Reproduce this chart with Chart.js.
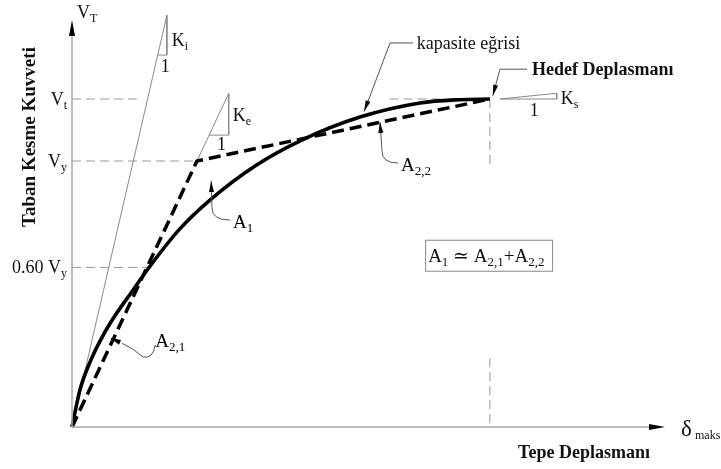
<!DOCTYPE html>
<html>
<head>
<meta charset="utf-8">
<title>Kapasite eğrisi</title>
<script src="https://cdn.jsdelivr.net/npm/chart.js@4.4.1/dist/chart.umd.min.js"></script>
<style>
  html, body { margin: 0; padding: 0; background: #fff; }
  canvas { display: block; }
</style>
</head>
<body>
<canvas id="pushover" width="721" height="469"></canvas>
<script>
// displacement normalised by target displacement, force by V_t
const capDisp  = [0, 0.019, 0.043, 0.067, 0.096, 0.139, 0.187, 0.258, 0.330, 0.438, 0.545, 0.689, 0.833, 0.928, 1.0];
const capForce = [0, 0.113, 0.198, 0.262, 0.326, 0.405, 0.491, 0.604, 0.692, 0.796, 0.872, 0.945, 0.988, 0.998, 1.0];

const Vt = 1.0;
const Vy = 0.811;
const deltaY = 0.299;
const deltaT = 1.0;

const bilinDisp  = [0, deltaY, deltaT];
const bilinForce = [0, Vy, Vt];

const kiSlope = 5.53;            // initial stiffness
const keSlope = Vy / deltaY;     // effective stiffness
const ksSlope = 0.13;            // post-yield stiffness

const tickValues = [Vt, Vy, 0.60 * Vy];
const tickMain = ['V', 'V', '0.60 V'];
const tickSub = ['t', 'y', 'y'];

const toPts = (xs, ys) => xs.map((x, i) => ({ x: x, y: ys[i] }));

const thinGray = { borderColor: '#8a8a8a', borderWidth: 1, pointRadius: 0, showLine: true, fill: false, order: 5 };
const refDash = { borderColor: '#9a9a9a', borderWidth: 1, borderDash: [9, 5], pointRadius: 0, showLine: true, fill: false, order: 6 };

const datasets = [
  // reference levels
  Object.assign({ data: [{ x: 0, y: Vt }, { x: 0.165, y: Vt }] }, refDash),
  Object.assign({ data: [{ x: 0.76, y: Vt }, { x: deltaT, y: Vt }] }, refDash),
  Object.assign({ data: [{ x: 0, y: Vy }, { x: deltaY, y: Vy }] }, refDash),
  Object.assign({ data: [{ x: 0, y: 0.60 * Vy }, { x: 0.185, y: 0.60 * Vy }] }, refDash),
  Object.assign({ data: [{ x: deltaT, y: Vt }, { x: deltaT, y: 0.79 }] }, refDash),
  Object.assign({ data: [{ x: deltaT, y: 0.21 }, { x: deltaT, y: 0 }] }, refDash),
  // stiffness lines with slope triangles
  Object.assign({ data: [{ x: 0, y: 0 }, { x: 0.227, y: 0.227 * kiSlope }] }, thinGray),
  Object.assign({ data: [{ x: 0.227, y: 0.227 * kiSlope }, { x: 0.227, y: 1.134 }, { x: 1.134 / kiSlope, y: 1.134 }] }, thinGray),
  Object.assign({ data: [{ x: deltaY, y: Vy }, { x: 0.375, y: 0.375 * keSlope }] }, thinGray),
  Object.assign({ data: [{ x: 0.375, y: 0.375 * keSlope }, { x: 0.375, y: 0.89 }, { x: 0.89 / keSlope, y: 0.89 }] }, thinGray),
  Object.assign({ data: [{ x: 1.024, y: Vt }, { x: 1.16, y: Vt + 0.136 * ksSlope }, { x: 1.16, y: Vt }, { x: 1.024, y: Vt }] }, thinGray),
  // bilinear idealisation
  {
    data: toPts(bilinDisp, bilinForce),
    showLine: true, borderColor: '#000', borderWidth: 3.5, borderDash: [12, 6],
    pointRadius: 0, fill: false, order: 1
  },
  // capacity curve
  {
    data: toPts(capDisp, capForce),
    showLine: true, borderColor: '#000', borderWidth: 3.6,
    cubicInterpolationMode: 'monotone', pointRadius: 0, fill: false, order: 0
  }
];

const SERIF = '"Liberation Serif", "DejaVu Serif", serif';

function subText(ctx, x, y, main, sub, size, align) {
  ctx.font = size + 'px ' + SERIF;
  const w1 = ctx.measureText(main).width;
  const sSize = Math.round(size * 0.68);
  ctx.font = sSize + 'px ' + SERIF;
  const w2 = ctx.measureText(sub).width;
  const x0 = align === 'right' ? x - w1 - w2 : x;
  ctx.textAlign = 'left';
  ctx.textBaseline = 'alphabetic';
  ctx.font = size + 'px ' + SERIF;
  ctx.fillText(main, x0, y);
  ctx.font = sSize + 'px ' + SERIF;
  ctx.fillText(sub, x0 + w1, y + size * 0.2);
  return x0 + w1 + w2;
}

function arrowHead(ctx, tx, ty, fx, fy, len, half) {
  const a = Math.atan2(ty - fy, tx - fx);
  ctx.beginPath();
  ctx.moveTo(tx, ty);
  ctx.lineTo(tx - len * Math.cos(a) + half * Math.sin(a), ty - len * Math.sin(a) - half * Math.cos(a));
  ctx.lineTo(tx - len * Math.cos(a) - half * Math.sin(a), ty - len * Math.sin(a) + half * Math.cos(a));
  ctx.closePath();
  ctx.fill();
}

const whiteBg = {
  id: 'whiteBg',
  beforeDraw(chart) {
    const c = chart.ctx;
    c.save();
    c.fillStyle = '#fff';
    c.fillRect(0, 0, chart.width, chart.height);
    c.restore();
  }
};

const annotations = {
  id: 'annotations',
  afterDatasetsDraw(chart) {
    const ctx = chart.ctx;
    const xs = chart.scales.x, ys = chart.scales.y;
    const P = (x, y) => [xs.getPixelForValue(x), ys.getPixelForValue(y)];
    const [ox, oy] = P(0, 0);
    const top = chart.chartArea.top, right = chart.chartArea.right;

    ctx.save();
    // axes
    ctx.strokeStyle = '#a8a8a8';
    ctx.lineWidth = 1.5;
    ctx.beginPath();
    ctx.moveTo(ox, oy); ctx.lineTo(ox, top + 12);
    ctx.moveTo(ox, oy); ctx.lineTo(right - 10, oy);
    ctx.stroke();
    ctx.fillStyle = '#000';
    arrowHead(ctx, ox, top, ox, oy, 16, 3);
    arrowHead(ctx, right, oy, ox, oy, 16, 3);

    ctx.fillStyle = '#111';
    // axis symbols
    subText(ctx, ox + 5, top - 2, 'V', 'T', 18);
    ctx.font = '23px ' + SERIF;
    ctx.fillText('δ', right + 16, oy + 9);
    ctx.font = '12px ' + SERIF;
    ctx.fillText('maks', right + 30, oy + 12);

    // level labels on the force axis
    tickValues.forEach((v, i) => {
      subText(ctx, ox - 5, ys.getPixelForValue(v) + 6, tickMain[i], tickSub[i], 18, 'right');
    });

    // axis titles
    ctx.font = 'bold 18px ' + SERIF;
    ctx.textAlign = 'center';
    ctx.fillText('Tepe Deplasmanı', 584, oy + 31);
    ctx.save();
    ctx.translate(29, 137);
    ctx.rotate(-Math.PI / 2);
    ctx.font = 'bold 19px ' + SERIF;
    ctx.fillText('Taban Kesme Kuvveti', 0, 6);
    ctx.restore();

    // stiffness labels
    let p = P(0.227, 1.18);
    subText(ctx, p[0] + 5, p[1] + 6, 'K', 'i', 18);
    p = P(0.205, 1.134);
    ctx.font = '18px ' + SERIF; ctx.textAlign = 'left';
    ctx.fillText('1', p[0] + 3, p[1] + 17);
    p = P(0.375, 0.95);
    subText(ctx, p[0] + 4, p[1] + 6, 'K', 'e', 18);
    p = P(0.328, 0.89);
    ctx.font = '18px ' + SERIF;
    ctx.fillText('1', p[0] + 8, p[1] + 15);
    p = P(1.16, Vt);
    subText(ctx, p[0] + 4, p[1] + 5, 'K', 's', 18);
    ctx.font = '18px ' + SERIF;
    ctx.fillText('1', p[0] - 27, p[1] + 17);

    // leaders
    ctx.strokeStyle = '#555';
    ctx.lineWidth = 1;
    ctx.fillStyle = '#000';
    const leader = (pts, head) => {
      ctx.beginPath();
      ctx.moveTo(pts[0][0], pts[0][1]);
      for (let i = 1; i < pts.length; i++) ctx.lineTo(pts[i][0], pts[i][1]);
      ctx.stroke();
      if (head) {
        const n = pts.length;
        arrowHead(ctx, pts[n - 1][0], pts[n - 1][1], pts[n - 2][0], pts[n - 2][1], 11, 2.5);
      }
    };

    // kapasite eğrisi
    leader([P(0.816, 1.171), P(0.761, 1.171), P(0.699, 0.962)], true);
    ctx.fillStyle = '#111';
    ctx.font = '18px ' + SERIF; ctx.textAlign = 'left';
    p = P(0.82, 1.171);
    ctx.fillText('kapasite eğrisi', p[0] + 2, p[1] + 6);

    // hedef deplasman
    ctx.fillStyle = '#000';
    leader([P(1.089, 1.091), P(1.024, 1.091), P(1.007, 1.01)], true);
    ctx.fillStyle = '#111';
    ctx.font = 'bold 18px ' + SERIF;
    p = P(1.089, 1.091);
    ctx.fillText('Hedef Deplasmanı', p[0] + 5, p[1] + 6);

    // A1
    ctx.fillStyle = '#000';
    let a = P(0.335, 0.668), b = P(0.378, 0.631);
    ctx.beginPath();
    ctx.moveTo(a[0], a[1]);
    ctx.quadraticCurveTo(a[0], b[1], b[0], b[1]);
    ctx.stroke();
    leader([a, P(0.333, 0.75)], true);
    subText(ctx, b[0] + 3, b[1] + 8, 'A', '1', 19);

    // A2,2
    ctx.fillStyle = '#000';
    a = P(0.742, 0.84); b = P(0.78, 0.805);
    ctx.beginPath();
    ctx.moveTo(a[0], a[1]);
    ctx.quadraticCurveTo(a[0], b[1], b[0], b[1]);
    ctx.stroke();
    leader([a, P(0.737, 0.93)], true);
    subText(ctx, b[0] + 3, b[1] + 8, 'A', '2,2', 19);

    // A2,1
    ctx.fillStyle = '#000';
    a = P(0.199, 0.25); b = P(0.12, 0.255);
    const tip = P(0.091, 0.272);
    ctx.beginPath();
    ctx.moveTo(a[0], a[1]);
    ctx.quadraticCurveTo(a[0] - 2, a[1] + 14, a[0] - 12, a[1] + 12);
    ctx.quadraticCurveTo(b[0] + 10, b[1] + 4, b[0], b[1]);
    ctx.stroke();
    arrowHead(ctx, tip[0], tip[1], b[0], b[1], 11, 2.5);
    subText(ctx, a[0], a[1] + 2, 'A', '2,1', 19);

    // equal-area note
    p = P(0.845, 0.571);
    ctx.strokeStyle = '#888';
    ctx.strokeRect(p[0] + 0.5, p[1] + 0.5, 127, 31);
    ctx.fillStyle = '#111';
    let x = subText(ctx, p[0] + 3, p[1] + 22, 'A', '1', 19);
    x = subText(ctx, x, p[1] + 22, ' ≃ A', '2,1', 19);
    subText(ctx, x, p[1] + 22, '+A', '2,2', 19);

    ctx.restore();
  }
};

new Chart(document.getElementById('pushover'), {
  type: 'scatter',
  data: { datasets: datasets },
  options: {
    responsive: false,
    animation: false,
    layout: { padding: { left: 72, right: 56, top: 20, bottom: 42 } },
    datasets: { scatter: { clip: false } },
    scales: {
      x: { type: 'linear', min: 0, max: 1.419, display: false },
      y: { type: 'linear', min: 0, max: 1.241, display: false }
    },
    plugins: { legend: { display: false }, tooltip: { enabled: false } }
  },
  plugins: [whiteBg, annotations]
});
</script>
</body>
</html>
